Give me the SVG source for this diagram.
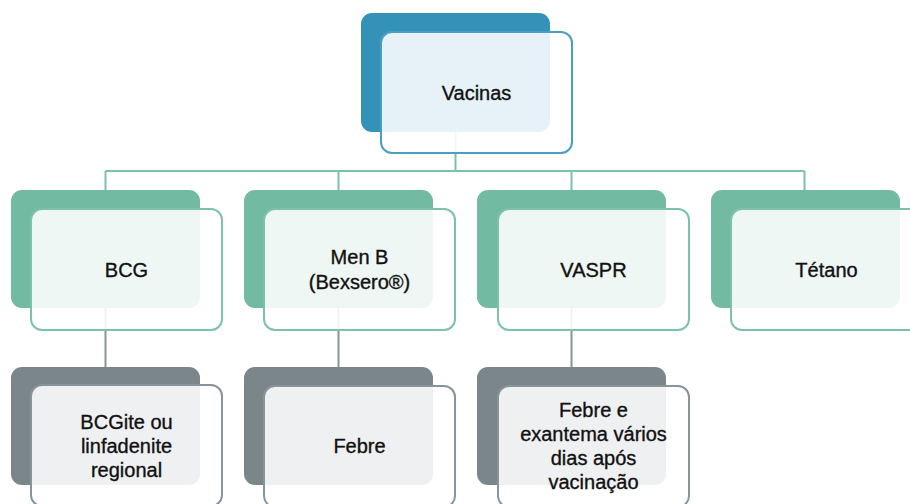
<svg xmlns="http://www.w3.org/2000/svg" width="910" height="504" viewBox="0 0 910 504">
<style>
.bk{stroke:none}
.fr{fill:#ffffff;fill-opacity:0.88;stroke-width:2}
.blue .bk{fill:#3492b9}
.blue .fr{stroke:#4a9ec4}
.green .bk{fill:#72bba2}
.green .fr{stroke:#7cc2a9}
.gray .bk{fill:#7b868a}
.gray .fr{stroke:#87959a}
text{font-family:"Liberation Sans",Arial,sans-serif;font-size:20px;fill:#111111;stroke:#111111;stroke-width:0.35;text-anchor:middle}
.cg{stroke:#7cc2a9;stroke-width:2;fill:none}
.cy{stroke:#8a9396;stroke-width:2;fill:none}
</style>
<rect width="910" height="504" fill="#ffffff"/>
<g id="connectors">
<path class="cg" d="M455.5 132 V171 M105.5 171 H804.5 M105.5 171 V190 M338.5 171 V190 M571.5 171 V190 M804.5 171 V190"/>
<path class="cy" d="M105.5 308 V367 M338.5 308 V367 M571.5 308 V367"/>
</g>
<g id="vacinas" class="blue">
<rect class="bk" x="361" y="13" width="189" height="119" rx="11"/>
<rect class="fr" x="381" y="32" width="191" height="121" rx="11"/>
<text x="476.5" y="100">Vacinas</text>
</g>
<g id="bcg" class="green">
<rect class="bk" x="11" y="190" width="189" height="118" rx="11"/>
<rect class="fr" x="31" y="209" width="191" height="121" rx="11"/>
<text x="126.5" y="277">BCG</text>
</g>
<g id="menb" class="green">
<rect class="bk" x="244" y="190" width="189" height="118" rx="11"/>
<rect class="fr" x="264" y="209" width="191" height="121" rx="11"/>
<text x="359.5" y="264">Men B</text>
<text x="359.5" y="289">(Bexsero®)</text>
</g>
<g id="vaspr" class="green">
<rect class="bk" x="477" y="190" width="189" height="118" rx="11"/>
<rect class="fr" x="498" y="209" width="191" height="121" rx="11"/>
<text x="593.5" y="277">VASPR</text>
</g>
<g id="tetano" class="green">
<rect class="bk" x="711" y="190" width="189" height="118" rx="11"/>
<rect class="fr" x="731" y="209" width="191" height="121" rx="11"/>
<text x="826.5" y="277">Tétano</text>
</g>
<g id="bcgite" class="gray">
<rect class="bk" x="11" y="367" width="189" height="118" rx="11"/>
<rect class="fr" x="31" y="385" width="191" height="121" rx="11"/>
<text x="126.5" y="429">BCGite ou</text>
<text x="126.5" y="453">linfadenite</text>
<text x="126.5" y="477">regional</text>
</g>
<g id="febre" class="gray">
<rect class="bk" x="244" y="367" width="189" height="118" rx="11"/>
<rect class="fr" x="264" y="386" width="191" height="121" rx="11"/>
<text x="359.5" y="453">Febre</text>
</g>
<g id="febre-exantema" class="gray">
<rect class="bk" x="477" y="367" width="189" height="118" rx="11"/>
<rect class="fr" x="498" y="386" width="191" height="121" rx="11"/>
<text x="593.5" y="417">Febre e</text>
<text x="593.5" y="441">exantema vários</text>
<text x="593.5" y="465">dias após</text>
<text x="593.5" y="489">vacinação</text>
</g>
</svg>
